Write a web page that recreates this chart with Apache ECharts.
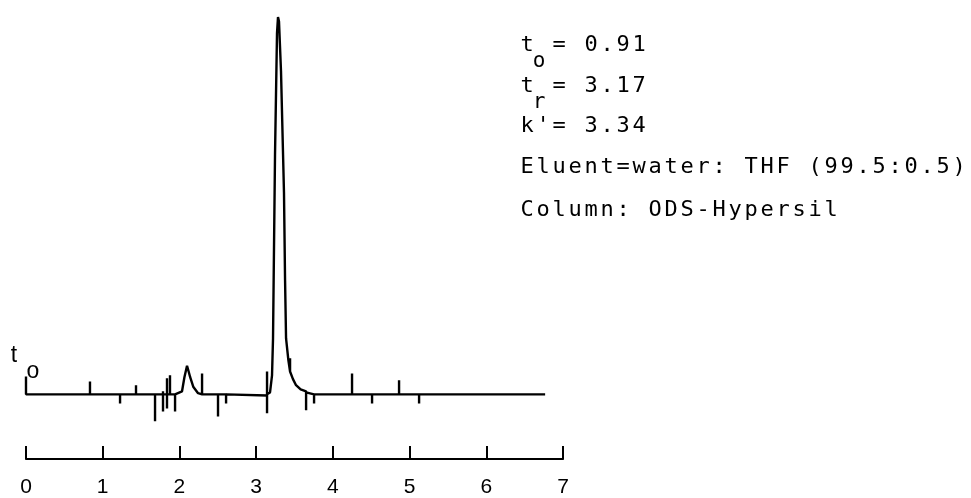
<!DOCTYPE html>
<html>
<head>
<meta charset="utf-8">
<script src="https://cdn.jsdelivr.net/npm/echarts@6/dist/echarts.min.js"></script>
<style>
  html, body { margin: 0; padding: 0; background: #fff; }
  #chart { width: 971px; height: 498px; }
</style>
</head>
<body>
<div id="chart"></div>
<script>
// Retention time (min) and detector signal (relative units, main peak ~100)
const times = [
  0, 0,
  0.834, 0.834, 0.834,
  1.226, 1.226, 1.226,
  1.434, 1.434, 1.434,
  1.682, 1.682, 1.682,
  1.786, 1.786, 1.786, 1.786,
  1.838, 1.838, 1.838, 1.838,
  1.877, 1.877, 1.877,
  1.943, 1.943, 1.943,
  2.034, 2.065, 2.099, 2.120, 2.140, 2.180, 2.243,
  2.295, 2.295, 2.295,
  2.503, 2.503, 2.503,
  2.608, 2.608, 2.608,
  3.142, 3.142, 3.142, 3.142,
  3.181, 3.207, 3.220, 3.246, 3.272, 3.285, 3.298, 3.324, 3.363, 3.377, 3.390, 3.420,
  3.442, 3.442, 3.442,
  3.480, 3.520, 3.580,
  3.651, 3.651, 3.651,
  3.755, 3.755, 3.755,
  3.833,
  4.250, 4.250, 4.250,
  4.511, 4.511, 4.511,
  4.863, 4.863, 4.863,
  5.124, 5.124, 5.124,
  6.767
];
const signal = [
  4.7, 0,
  0, 3.4, 0,
  0, -2.4, 0,
  0, 2.4, 0,
  0, -7.1, 0,
  0, -4.5, 0.8, 0,
  0, 4.2, -3.7, 0,
  0, 5.0, 0,
  0, -4.5, 0,
  0.8, 4.5, 7.5, 6.0, 4.5, 2.0, 0.3,
  0, 5.5, 0,
  0, -5.8, 0,
  0, -2.4, 0,
  -0.3, 6.0, -5.0, 0,
  0.5, 5, 14.7, 63, 95, 99.2, 98, 85, 53, 30, 14.7, 9,
  6, 9.5, 6,
  4, 2.4, 1.3,
  0.8, -4.2, 0.5,
  0, -2.4, 0,
  0,
  0, 5.5, 0,
  0, -2.4, 0,
  0, 3.7, 0,
  0, -2.4, 0,
  0
];
const tickLabels = ['0', '1', '2', '3', '4', '5', '6', '7'];
const infoLines = ['t = 0.91', 't = 3.17', "k'= 3.34", 'Eluent=water: THF (99.5:0.5)', 'Column: ODS-Hypersil'];
const infoSubs = ['o', 'r', '', '', ''];

const chart = echarts.init(document.getElementById('chart'));
const data = times.map((t, i) => [t, signal[i]]);

const CH = 16;          // character pitch of the typewriter lettering
const TX = 519;         // left of text block
const lineY = [45, 86, 126, 167, 210];
const mono = 'DejaVu Sans Mono';
function boxed(s) { return s.split('').map(ch => '{c|' + ch + '}').join(''); }
const richStyle = { c: { width: CH, align: 'center', fontFamily: mono, fontSize: 22, fill: '#000' } };

const graphics = [];
infoLines.forEach((s, i) => {
  graphics.push({
    type: 'text',
    style: { text: boxed(s), x: TX, y: lineY[i], textVerticalAlign: 'middle', rich: richStyle, fill: '#000' }
  });
  if (infoSubs[i]) {
    graphics.push({
      type: 'text',
      style: { text: infoSubs[i], x: TX + CH * 1.25, y: lineY[i] + 17, textAlign: 'center', textVerticalAlign: 'middle', fontFamily: mono, fontSize: 21, fill: '#000' }
    });
  }
});
// t0 marker label at start of trace
graphics.push({ type: 'text', style: { text: 't', x: 14, y: 356, textAlign: 'center', textVerticalAlign: 'middle', fontFamily: 'Liberation Sans', fontSize: 23, fill: '#000' } });
graphics.push({ type: 'text', style: { text: 'o', x: 33, y: 372, textAlign: 'center', textVerticalAlign: 'middle', fontFamily: 'Liberation Sans', fontSize: 23, fill: '#000' } });

chart.setOption({
  backgroundColor: '#fff',
  animation: false,
  grid: { left: 26, right: 408, top: 14, bottom: 37, containLabel: false },
  xAxis: {
    type: 'value', min: 0, max: 7, interval: 1,
    axisLine: { show: true, onZero: false, lineStyle: { color: '#000', width: 2.2 } },
    axisTick: { show: true, inside: true, length: 13, lineStyle: { color: '#000', width: 2 } },
    axisLabel: { show: true, margin: 18, color: '#000', fontSize: 21, fontFamily: 'Liberation Sans',
      formatter: v => tickLabels[Math.round(v)] },
    splitLine: { show: false }
  },
  yAxis: { type: 'value', min: -17, max: 100, show: false, splitLine: { show: false } },
  series: [{
    type: 'line', data: data, showSymbol: false, symbol: 'none', clip: false,
    lineStyle: { color: '#000', width: 2.4 }
  }],
  graphic: graphics
});
</script>
</body>
</html>
